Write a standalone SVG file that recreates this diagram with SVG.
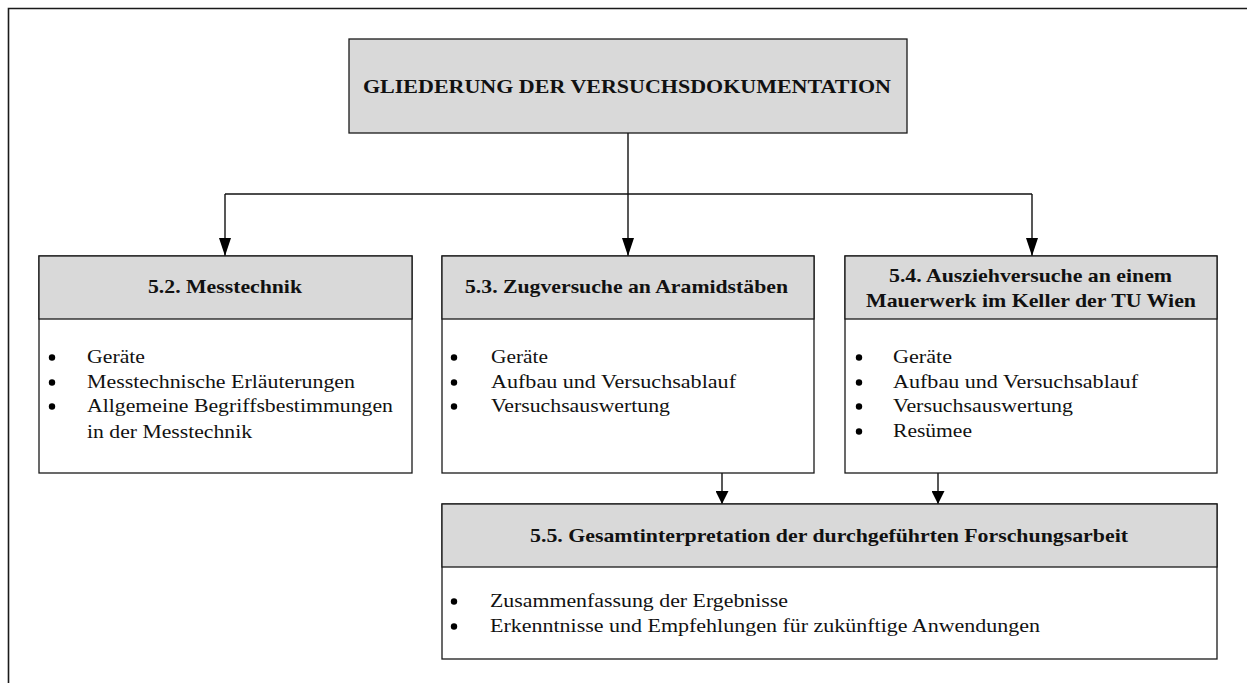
<svg xmlns="http://www.w3.org/2000/svg" width="1247" height="683" viewBox="0 0 1247 683">
  <style>
    .frame { fill: none; stroke: #1a1a1a; stroke-width: 1.6; }
    .box { fill: #ffffff; stroke: #1a1a1a; stroke-width: 1.3; }
    .head { fill: #d9d9d9; stroke: #1a1a1a; stroke-width: 1.3; }
    .title { font-family: "Liberation Serif", "Times New Roman", serif; font-weight: bold; font-size: 19.5px; fill: #111111; }
    .item { font-family: "Liberation Serif", "Times New Roman", serif; font-size: 18.5px; fill: #111111; }
    .bullet { fill: #000000; }
    .conn { fill: none; stroke: #111111; stroke-width: 1.4; }
  </style>
  <defs>
    <marker id="arrowLong" viewBox="0 0 18 12" refX="18" refY="6" markerWidth="18" markerHeight="12" markerUnits="userSpaceOnUse" orient="auto">
      <path d="M0,0 L18,6 L0,12 z" fill="#000000"/>
    </marker>
    <marker id="arrowShort" viewBox="0 0 13 13" refX="13" refY="6.5" markerWidth="13" markerHeight="13" markerUnits="userSpaceOnUse" orient="auto">
      <path d="M0,0 L13,6.5 L0,13 z" fill="#000000"/>
    </marker>
  </defs>

  <rect x="0" y="0" width="1247" height="683" fill="#ffffff"/>
  <path class="frame" d="M8.5,683 V8.5 H1247"/>

  <g id="connectors">
    <path class="conn" d="M628,133 V194"/>
    <path class="conn" d="M225,194 H1032"/>
    <path class="conn" d="M225,194 V256" marker-end="url(#arrowLong)"/>
    <path class="conn" d="M628,194 V256" marker-end="url(#arrowLong)"/>
    <path class="conn" d="M1032,194 V256" marker-end="url(#arrowLong)"/>
    <path class="conn" d="M722,473 V504" marker-end="url(#arrowShort)"/>
    <path class="conn" d="M938,473 V504" marker-end="url(#arrowShort)"/>
  </g>

  <g id="node-root">
    <rect class="head" x="349" y="39" width="558" height="94"/>
    <text class="title" x="363" y="93" textLength="528" lengthAdjust="spacingAndGlyphs">GLIEDERUNG DER VERSUCHSDOKUMENTATION</text>
  </g>

  <g id="node-5-2">
    <rect class="box" x="39" y="256" width="373" height="217"/>
    <rect class="head" x="39" y="256" width="373" height="63"/>
    <text class="title" x="148" y="293" textLength="154" lengthAdjust="spacingAndGlyphs">5.2. Messtechnik</text>
    <circle class="bullet" cx="52" cy="357.5" r="3.2"/>
    <circle class="bullet" cx="52" cy="382.5" r="3.2"/>
    <circle class="bullet" cx="52" cy="406.5" r="3.2"/>
    <text class="item" x="87" y="363" textLength="58" lengthAdjust="spacingAndGlyphs">Geräte</text>
    <text class="item" x="87" y="388" textLength="268" lengthAdjust="spacingAndGlyphs">Messtechnische Erläuterungen</text>
    <text class="item" x="87" y="412" textLength="306" lengthAdjust="spacingAndGlyphs">Allgemeine Begriffsbestimmungen</text>
    <text class="item" x="87" y="438" textLength="165" lengthAdjust="spacingAndGlyphs">in der Messtechnik</text>
  </g>

  <g id="node-5-3">
    <rect class="box" x="442" y="256" width="372" height="217"/>
    <rect class="head" x="442" y="256" width="372" height="63"/>
    <text class="title" x="465" y="293" textLength="323" lengthAdjust="spacingAndGlyphs">5.3. Zugversuche an Aramidstäben</text>
    <circle class="bullet" cx="454" cy="357.5" r="3.2"/>
    <circle class="bullet" cx="454" cy="382.5" r="3.2"/>
    <circle class="bullet" cx="454" cy="406.5" r="3.2"/>
    <text class="item" x="491" y="363" textLength="57" lengthAdjust="spacingAndGlyphs">Geräte</text>
    <text class="item" x="491" y="388" textLength="245" lengthAdjust="spacingAndGlyphs">Aufbau und Versuchsablauf</text>
    <text class="item" x="491" y="412" textLength="179" lengthAdjust="spacingAndGlyphs">Versuchsauswertung</text>
  </g>

  <g id="node-5-4">
    <rect class="box" x="845" y="256" width="372" height="217"/>
    <rect class="head" x="845" y="256" width="372" height="63"/>
    <text class="title" x="889" y="282" textLength="283" lengthAdjust="spacingAndGlyphs">5.4. Ausziehversuche an einem</text>
    <text class="title" x="866" y="307" textLength="330" lengthAdjust="spacingAndGlyphs">Mauerwerk im Keller der TU Wien</text>
    <circle class="bullet" cx="859" cy="357.5" r="3.2"/>
    <circle class="bullet" cx="859" cy="382.5" r="3.2"/>
    <circle class="bullet" cx="859" cy="406.5" r="3.2"/>
    <circle class="bullet" cx="859" cy="431.5" r="3.2"/>
    <text class="item" x="893" y="363" textLength="59" lengthAdjust="spacingAndGlyphs">Geräte</text>
    <text class="item" x="893" y="388" textLength="245" lengthAdjust="spacingAndGlyphs">Aufbau und Versuchsablauf</text>
    <text class="item" x="893" y="412" textLength="180" lengthAdjust="spacingAndGlyphs">Versuchsauswertung</text>
    <text class="item" x="893" y="437" textLength="79" lengthAdjust="spacingAndGlyphs">Resümee</text>
  </g>

  <g id="node-5-5">
    <rect class="box" x="442" y="504" width="775" height="155"/>
    <rect class="head" x="442" y="504" width="775" height="63"/>
    <text class="title" x="530" y="542" textLength="598" lengthAdjust="spacingAndGlyphs">5.5. Gesamtinterpretation der durchgeführten Forschungsarbeit</text>
    <circle class="bullet" cx="454" cy="601.5" r="3.2"/>
    <circle class="bullet" cx="454" cy="626.5" r="3.2"/>
    <text class="item" x="490" y="607" textLength="298" lengthAdjust="spacingAndGlyphs">Zusammenfassung der Ergebnisse</text>
    <text class="item" x="490" y="632" textLength="550" lengthAdjust="spacingAndGlyphs">Erkenntnisse und Empfehlungen für zukünftige Anwendungen</text>
  </g>
</svg>
